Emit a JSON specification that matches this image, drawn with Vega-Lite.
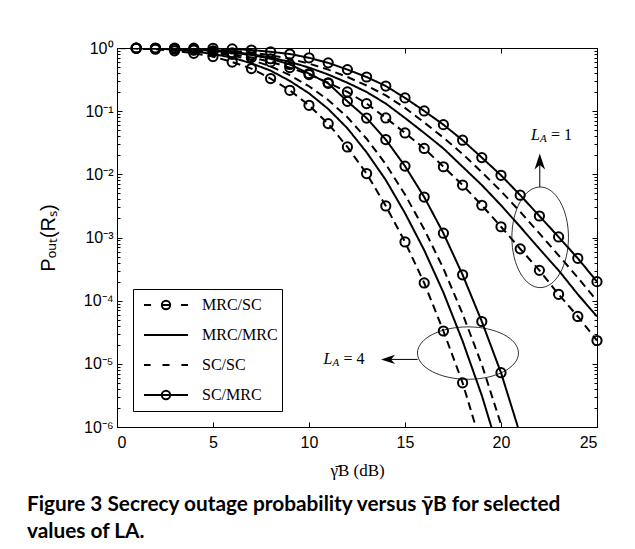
{
  "$schema": "https://vega.github.io/schema/vega-lite/v6.json",
  "autosize": {"type": "none"},
  "width": 480,
  "height": 379,
  "padding": {"left": 117, "top": 48, "right": 38, "bottom": 122},
  "background": "white",
  "title": {
    "text": ["Figure 3 Secrecy outage probability versus γ̄B for selected", "values of LA."],
    "orient": "bottom", "anchor": "start", "frame": "group",
    "font": "Lato", "fontWeight": "bold", "fontSize": 20.8, "lineHeight": 27,
    "color": "black", "dx": -90, "offset": 17
  },
  "datasets": {
    "curves": [
      {"s":"MRC/SC","g":"4","x":0,"y":0.998},{"s":"MRC/SC","g":"4","x":1,"y":0.9886},{"s":"MRC/SC","g":"4","x":2,"y":0.955},{"s":"MRC/SC","g":"4","x":3,"y":0.9016},{"s":"MRC/SC","g":"4","x":4,"y":0.8222},{"s":"MRC/SC","g":"4","x":5,"y":0.7328},{"s":"MRC/SC","g":"4","x":6,"y":0.5998},{"s":"MRC/SC","g":"4","x":7,"y":0.4721},{"s":"MRC/SC","g":"4","x":8,"y":0.3281},{"s":"MRC/SC","g":"4","x":9,"y":0.2138},{"s":"MRC/SC","g":"4","x":10,"y":0.1239},{"s":"MRC/SC","g":"4","x":11,"y":0.0635},{"s":"MRC/SC","g":"4","x":12,"y":0.0271},{"s":"MRC/SC","g":"4","x":13,"y":0.01028},{"s":"MRC/SC","g":"4","x":14,"y":0.00316},{"s":"MRC/SC","g":"4","x":15,"y":0.000851},{"s":"MRC/SC","g":"4","x":16,"y":0.000191},{"s":"MRC/SC","g":"4","x":17,"y":0.0000331},{"s":"MRC/SC","g":"4","x":18,"y":0.00000501},{"s":"MRC/SC","g":"4","x":18.69,"y":0.000001},
      {"s":"MRC/MRC","g":"4","x":0,"y":0.9995},{"s":"MRC/MRC","g":"4","x":1,"y":0.9977},{"s":"MRC/MRC","g":"4","x":2,"y":0.9817},{"s":"MRC/MRC","g":"4","x":3,"y":0.9441},{"s":"MRC/MRC","g":"4","x":4,"y":0.8851},{"s":"MRC/MRC","g":"4","x":5,"y":0.8035},{"s":"MRC/MRC","g":"4","x":6,"y":0.7047},{"s":"MRC/MRC","g":"4","x":7,"y":0.5715},{"s":"MRC/MRC","g":"4","x":8,"y":0.4385},{"s":"MRC/MRC","g":"4","x":9,"y":0.3013},{"s":"MRC/MRC","g":"4","x":10,"y":0.1919},{"s":"MRC/MRC","g":"4","x":11,"y":0.1084},{"s":"MRC/MRC","g":"4","x":12,"y":0.0536},{"s":"MRC/MRC","g":"4","x":13,"y":0.0223},{"s":"MRC/MRC","g":"4","x":14,"y":0.00813},{"s":"MRC/MRC","g":"4","x":15,"y":0.00243},{"s":"MRC/MRC","g":"4","x":16,"y":0.000631},{"s":"MRC/MRC","g":"4","x":17,"y":0.000135},{"s":"MRC/MRC","g":"4","x":18,"y":0.0000229},{"s":"MRC/MRC","g":"4","x":19,"y":0.00000316},{"s":"MRC/MRC","g":"4","x":19.5,"y":0.000001},
      {"s":"SC/SC","g":"4","x":0,"y":1},{"s":"SC/SC","g":"4","x":1,"y":0.9995},{"s":"SC/SC","g":"4","x":2,"y":0.9931},{"s":"SC/SC","g":"4","x":3,"y":0.9661},{"s":"SC/SC","g":"4","x":4,"y":0.9204},{"s":"SC/SC","g":"4","x":5,"y":0.8492},{"s":"SC/SC","g":"4","x":6,"y":0.7621},{"s":"SC/SC","g":"4","x":7,"y":0.6457},{"s":"SC/SC","g":"4","x":8,"y":0.5129},{"s":"SC/SC","g":"4","x":9,"y":0.3724},{"s":"SC/SC","g":"4","x":10,"y":0.2483},{"s":"SC/SC","g":"4","x":11,"y":0.15},{"s":"SC/SC","g":"4","x":12,"y":0.0802},{"s":"SC/SC","g":"4","x":13,"y":0.0366},{"s":"SC/SC","g":"4","x":14,"y":0.01445},{"s":"SC/SC","g":"4","x":15,"y":0.00479},{"s":"SC/SC","g":"4","x":16,"y":0.00135},{"s":"SC/SC","g":"4","x":17,"y":0.000324},{"s":"SC/SC","g":"4","x":18,"y":0.0000617},{"s":"SC/SC","g":"4","x":19,"y":0.00000977},{"s":"SC/SC","g":"4","x":20,"y":0.0000011},{"s":"SC/SC","g":"4","x":20.03,"y":0.000001},
      {"s":"SC/MRC","g":"4","x":0,"y":1},{"s":"SC/MRC","g":"4","x":1,"y":0.9954},{"s":"SC/MRC","g":"4","x":2,"y":0.9886},{"s":"SC/MRC","g":"4","x":3,"y":0.9727},{"s":"SC/MRC","g":"4","x":4,"y":0.9441},{"s":"SC/MRC","g":"4","x":5,"y":0.9016},{"s":"SC/MRC","g":"4","x":6,"y":0.8414},{"s":"SC/MRC","g":"4","x":7,"y":0.7762},{"s":"SC/MRC","g":"4","x":8,"y":0.6761},{"s":"SC/MRC","g":"4","x":9,"y":0.5495},{"s":"SC/MRC","g":"4","x":10,"y":0.3936},{"s":"SC/MRC","g":"4","x":11,"y":0.2754},{"s":"SC/MRC","g":"4","x":12,"y":0.1432},{"s":"SC/MRC","g":"4","x":13,"y":0.0776},{"s":"SC/MRC","g":"4","x":14,"y":0.0355},{"s":"SC/MRC","g":"4","x":15,"y":0.01349},{"s":"SC/MRC","g":"4","x":16,"y":0.00437},{"s":"SC/MRC","g":"4","x":17,"y":0.00117},{"s":"SC/MRC","g":"4","x":18,"y":0.000257},{"s":"SC/MRC","g":"4","x":19,"y":0.0000468},{"s":"SC/MRC","g":"4","x":20,"y":0.00000724},{"s":"SC/MRC","g":"4","x":20.88,"y":0.000001},
      {"s":"MRC/SC","g":"1","x":0,"y":0.999},{"s":"MRC/SC","g":"1","x":1,"y":0.9931},{"s":"MRC/SC","g":"1","x":2,"y":0.9817},{"s":"MRC/SC","g":"1","x":3,"y":0.9594},{"s":"MRC/SC","g":"1","x":4,"y":0.9226},{"s":"MRC/SC","g":"1","x":5,"y":0.871},{"s":"MRC/SC","g":"1","x":6,"y":0.7943},{"s":"MRC/SC","g":"1","x":7,"y":0.7079},{"s":"MRC/SC","g":"1","x":8,"y":0.6026},{"s":"MRC/SC","g":"1","x":9,"y":0.4898},{"s":"MRC/SC","g":"1","x":10,"y":0.3802},{"s":"MRC/SC","g":"1","x":11,"y":0.2818},{"s":"MRC/SC","g":"1","x":12,"y":0.2014},{"s":"MRC/SC","g":"1","x":13,"y":0.1318},{"s":"MRC/SC","g":"1","x":14,"y":0.078},{"s":"MRC/SC","g":"1","x":15,"y":0.0452},{"s":"MRC/SC","g":"1","x":16,"y":0.0257},{"s":"MRC/SC","g":"1","x":17,"y":0.01318},{"s":"MRC/SC","g":"1","x":18,"y":0.00676},{"s":"MRC/SC","g":"1","x":19,"y":0.00324},{"s":"MRC/SC","g":"1","x":20,"y":0.00148},{"s":"MRC/SC","g":"1","x":21,"y":0.000661},{"s":"MRC/SC","g":"1","x":22,"y":0.000302},{"s":"MRC/SC","g":"1","x":23,"y":0.000126},{"s":"MRC/SC","g":"1","x":24,"y":0.0000562},{"s":"MRC/SC","g":"1","x":25,"y":0.0000234},
      {"s":"MRC/MRC","g":"1","x":0,"y":1},{"s":"MRC/MRC","g":"1","x":1,"y":0.9977},{"s":"MRC/MRC","g":"1","x":2,"y":0.9931},{"s":"MRC/MRC","g":"1","x":3,"y":0.9817},{"s":"MRC/MRC","g":"1","x":4,"y":0.9594},{"s":"MRC/MRC","g":"1","x":5,"y":0.9226},{"s":"MRC/MRC","g":"1","x":6,"y":0.871},{"s":"MRC/MRC","g":"1","x":7,"y":0.7943},{"s":"MRC/MRC","g":"1","x":8,"y":0.7079},{"s":"MRC/MRC","g":"1","x":9,"y":0.6026},{"s":"MRC/MRC","g":"1","x":10,"y":0.4898},{"s":"MRC/MRC","g":"1","x":11,"y":0.3802},{"s":"MRC/MRC","g":"1","x":12,"y":0.2818},{"s":"MRC/MRC","g":"1","x":13,"y":0.2014},{"s":"MRC/MRC","g":"1","x":14,"y":0.1318},{"s":"MRC/MRC","g":"1","x":15,"y":0.078},{"s":"MRC/MRC","g":"1","x":16,"y":0.0452},{"s":"MRC/MRC","g":"1","x":17,"y":0.0257},{"s":"MRC/MRC","g":"1","x":18,"y":0.01318},{"s":"MRC/MRC","g":"1","x":19,"y":0.00676},{"s":"MRC/MRC","g":"1","x":20,"y":0.00324},{"s":"MRC/MRC","g":"1","x":21,"y":0.00148},{"s":"MRC/MRC","g":"1","x":22,"y":0.000661},{"s":"MRC/MRC","g":"1","x":23,"y":0.000302},{"s":"MRC/MRC","g":"1","x":24,"y":0.000126},{"s":"MRC/MRC","g":"1","x":25,"y":0.0000562},
      {"s":"SC/SC","g":"1","x":0,"y":1},{"s":"SC/SC","g":"1","x":1,"y":0.9995},{"s":"SC/SC","g":"1","x":2,"y":0.9977},{"s":"SC/SC","g":"1","x":3,"y":0.9908},{"s":"SC/SC","g":"1","x":4,"y":0.975},{"s":"SC/SC","g":"1","x":5,"y":0.9484},{"s":"SC/SC","g":"1","x":6,"y":0.9057},{"s":"SC/SC","g":"1","x":7,"y":0.8472},{"s":"SC/SC","g":"1","x":8,"y":0.7674},{"s":"SC/SC","g":"1","x":9,"y":0.6745},{"s":"SC/SC","g":"1","x":10,"y":0.5662},{"s":"SC/SC","g":"1","x":11,"y":0.4539},{"s":"SC/SC","g":"1","x":12,"y":0.3475},{"s":"SC/SC","g":"1","x":13,"y":0.2547},{"s":"SC/SC","g":"1","x":14,"y":0.1774},{"s":"SC/SC","g":"1","x":15,"y":0.1127},{"s":"SC/SC","g":"1","x":16,"y":0.0662},{"s":"SC/SC","g":"1","x":17,"y":0.0381},{"s":"SC/SC","g":"1","x":18,"y":0.021},{"s":"SC/SC","g":"1","x":19,"y":0.01079},{"s":"SC/SC","g":"1","x":20,"y":0.00542},{"s":"SC/SC","g":"1","x":21,"y":0.00256},{"s":"SC/SC","g":"1","x":22,"y":0.00116},{"s":"SC/SC","g":"1","x":23,"y":0.000522},{"s":"SC/SC","g":"1","x":24,"y":0.000232},{"s":"SC/SC","g":"1","x":25,"y":0.0000989},
      {"s":"SC/MRC","g":"1","x":0,"y":1},{"s":"SC/MRC","g":"1","x":1,"y":0.9995},{"s":"SC/MRC","g":"1","x":2,"y":0.9995},{"s":"SC/MRC","g":"1","x":3,"y":0.9977},{"s":"SC/MRC","g":"1","x":4,"y":0.9954},{"s":"SC/MRC","g":"1","x":5,"y":0.9886},{"s":"SC/MRC","g":"1","x":6,"y":0.9661},{"s":"SC/MRC","g":"1","x":7,"y":0.929},{"s":"SC/MRC","g":"1","x":8,"y":0.871},{"s":"SC/MRC","g":"1","x":9,"y":0.8035},{"s":"SC/MRC","g":"1","x":10,"y":0.6998},{"s":"SC/MRC","g":"1","x":11,"y":0.5821},{"s":"SC/MRC","g":"1","x":12,"y":0.455},{"s":"SC/MRC","g":"1","x":13,"y":0.3475},{"s":"SC/MRC","g":"1","x":14,"y":0.25},{"s":"SC/MRC","g":"1","x":15,"y":0.1622},{"s":"SC/MRC","g":"1","x":16,"y":0.1007},{"s":"SC/MRC","g":"1","x":17,"y":0.0612},{"s":"SC/MRC","g":"1","x":18,"y":0.0347},{"s":"SC/MRC","g":"1","x":19,"y":0.0184},{"s":"SC/MRC","g":"1","x":20,"y":0.00966},{"s":"SC/MRC","g":"1","x":21,"y":0.00468},{"s":"SC/MRC","g":"1","x":22,"y":0.00219},{"s":"SC/MRC","g":"1","x":23,"y":0.00102},{"s":"SC/MRC","g":"1","x":24,"y":0.000468},{"s":"SC/MRC","g":"1","x":25,"y":0.0002}
    ],
    "keys": [{"k": "MRC/SC"}, {"k": "MRC/MRC"}, {"k": "SC/SC"}, {"k": "SC/MRC"}],
    "ann": [
      {"x": 21.56, "y": 0.0415, "eq": "= 1"},
      {"x": 10.75, "y": 0.0000121, "eq": "= 4"}
    ]
  },
  "resolve": {"axis": {"x": "independent", "y": "independent"}},
  "layer": [
    {
      "data": {"name": "curves"},
      "mark": {"type": "line", "color": "black", "strokeWidth": 2, "clip": true},
      "encoding": {
        "x": {"field": "x", "type": "quantitative",
          "scale": {"domain": [0, 25], "nice": false, "zero": false},
          "axis": {"orient": "bottom", "offset": 0, "values": [0, 5, 10, 15, 20, 25], "title": "γ̄B  (dB)",
            "titleFont": "Liberation Serif", "titleFontSize": 17, "titleFontWeight": "normal", "titlePadding": 12,
            "labelFont": "Liberation Sans", "labelFontSize": 16, "tickSize": -5, "labelPadding": 12}},
        "y": {"field": "y", "type": "quantitative",
          "scale": {"type": "log", "domain": [0.000001, 1], "nice": false},
          "axis": {"orient": "left", "offset": 0, "values": [0.000001, 0.00001, 0.0001, 0.001, 0.01, 0.1, 1],
            "labelExpr": "datum.value >= 0.5 ? '10⁰' : datum.value >= 0.05 ? '10⁻¹' : datum.value >= 0.005 ? '10⁻²' : datum.value >= 0.0005 ? '10⁻³' : datum.value >= 0.00005 ? '10⁻⁴' : datum.value >= 0.000005 ? '10⁻⁵' : '10⁻⁶'",
            "title": "Pₒᵤₜ(Rₛ)", "titleFont": "Liberation Sans", "titleFontSize": 20, "titleFontWeight": "normal", "titlePadding": 25,
            "labelFont": "Liberation Sans", "labelFontSize": 16, "tickSize": -5, "labelPadding": 9}},
        "detail": {"field": "g"},
        "strokeDash": {"field": "s", "type": "nominal",
          "scale": {"domain": ["MRC/MRC", "MRC/SC", "SC/MRC", "SC/SC"], "range": [[1, 0], [8, 5], [1, 0], [8, 5]]},
          "legend": null}
      }
    },
    {
      "data": {"name": "keys"},
      "mark": {"type": "point", "filled": false, "color": "black", "opacity": 0},
      "encoding": {
        "shape": {"field": "k", "type": "nominal",
          "scale": {"domain": ["MRC/SC", "MRC/MRC", "SC/SC", "SC/MRC"],
            "range": [
              "M-1,0H-0.68M0.68,0H1M-0.19,0C-0.19,-0.105 -0.105,-0.19 0,-0.19C0.105,-0.19 0.19,-0.105 0.19,0C0.19,0.105 0.105,0.19 0,0.19C-0.105,0.19 -0.19,0.105 -0.19,0ZM-0.19,0H0.19",
              "M-1,0H1",
              "M-1,0H-0.7M-0.16,0H0.16M0.7,0H1",
              "M-1,0H1M-0.19,0C-0.19,-0.105 -0.105,-0.19 0,-0.19C0.105,-0.19 0.19,-0.105 0.19,0C0.19,0.105 0.105,0.19 0,0.19C-0.105,0.19 -0.19,0.105 -0.19,0Z"
            ]},
          "legend": {"title": null, "orient": "none", "legendX": 16, "legendY": 241, "direction": "vertical",
            "strokeColor": "black", "fillColor": "white", "padding": 4,
            "labelFont": "Liberation Serif", "labelFontSize": 16, "labelColor": "black", "labelOffset": 13,
            "symbolSize": 1936, "symbolStrokeWidth": 2, "symbolStrokeColor": "black", "symbolFillColor": "transparent",
            "symbolOpacity": 1, "symbolOffset": 6, "clipHeight": 24, "rowPadding": 6}}
      }
    },
    {
      "data": {"name": "curves"},
      "transform": [{"filter": "(datum.s == 'MRC/SC' || datum.s == 'SC/MRC') && datum.x >= 1 && datum.x == floor(datum.x)"}],
      "mark": {"type": "point", "shape": "circle", "filled": false, "stroke": "black", "strokeWidth": 2, "size": 85, "opacity": 1},
      "encoding": {
        "x": {"field": "x", "type": "quantitative",
          "axis": {"orient": "top", "offset": 0, "values": [0, 5, 10, 15, 20, 25], "labels": false, "title": null, "tickSize": -5}},
        "y": {"field": "y", "type": "quantitative",
          "axis": {"orient": "right", "offset": 0, "values": [0.000001, 0.00001, 0.0001, 0.001, 0.01, 0.1, 1], "labels": false, "title": null, "tickSize": -5}}
      }
    },
    {
      "data": {"values": [{"x": 22.04, "y": 0.001007}]},
      "mark": {"type": "point", "shape": "M-0.5625,0A0.5625,1 0 1,1 0.5625,0A0.5625,1 0 1,1 -0.5625,0Z", "size": 10120, "filled": false, "stroke": "black", "strokeWidth": 0.8, "opacity": 1},
      "encoding": {
        "x": {"field": "x", "type": "quantitative", "axis": null},
        "y": {"field": "y", "type": "quantitative",
          "axis": {"orient": "left", "offset": 0, "values": [0.000002,0.000003,0.000004,0.000005,0.000006,0.000007,0.000008,0.000009,0.00002,0.00003,0.00004,0.00005,0.00006,0.00007,0.00008,0.00009,0.0002,0.0003,0.0004,0.0005,0.0006,0.0007,0.0008,0.0009,0.002,0.003,0.004,0.005,0.006,0.007,0.008,0.009,0.02,0.03,0.04,0.05,0.06,0.07,0.08,0.09,0.2,0.3,0.4,0.5,0.6,0.7,0.8,0.9],
            "labels": false, "title": null, "domain": false, "tickSize": -3}}
      }
    },
    {
      "data": {"values": [{"x": 18.28, "y": 0.0000148}]},
      "mark": {"type": "point", "shape": "M-1,0A1,0.519 0 1,1 1,0A1,0.519 0 1,1 -1,0Z", "size": 10201, "filled": false, "stroke": "black", "strokeWidth": 0.8, "opacity": 1},
      "encoding": {
        "x": {"field": "x", "type": "quantitative", "axis": null},
        "y": {"field": "y", "type": "quantitative",
          "axis": {"orient": "right", "offset": 0, "values": [0.000002,0.000003,0.000004,0.000005,0.000006,0.000007,0.000008,0.000009,0.00002,0.00003,0.00004,0.00005,0.00006,0.00007,0.00008,0.00009,0.0002,0.0003,0.0004,0.0005,0.0006,0.0007,0.0008,0.0009,0.002,0.003,0.004,0.005,0.006,0.007,0.008,0.009,0.02,0.03,0.04,0.05,0.06,0.07,0.08,0.09,0.2,0.3,0.4,0.5,0.6,0.7,0.8,0.9],
            "labels": false, "title": null, "domain": false, "tickSize": -3}}
      }
    },
    {
      "data": {"values": [{"x": 22.02, "y": 0.00631, "y2": 0.0185}]},
      "mark": {"type": "rule", "color": "black", "strokeWidth": 1},
      "encoding": {
        "x": {"field": "x", "type": "quantitative", "axis": null},
        "y": {"field": "y", "type": "quantitative", "axis": null},
        "y2": {"field": "y2"}
      }
    },
    {
      "data": {"values": [{"x": 15.66, "x2": 14.2, "y": 0.00001175}]},
      "mark": {"type": "rule", "color": "black", "strokeWidth": 1},
      "encoding": {
        "x": {"field": "x", "type": "quantitative", "axis": null},
        "x2": {"field": "x2"},
        "y": {"field": "y", "type": "quantitative", "axis": null}
      }
    },
    {
      "data": {"values": [{"x": 22.02, "y": 0.0213}]},
      "mark": {"type": "point", "shape": "M0,0L0.33,1L0,0.72L-0.33,1Z", "size": 1024, "filled": true, "color": "black", "opacity": 1},
      "encoding": {
        "x": {"field": "x", "type": "quantitative", "axis": null},
        "y": {"field": "y", "type": "quantitative", "axis": null}
      }
    },
    {
      "data": {"values": [{"x": 13.75, "y": 0.00001175}]},
      "mark": {"type": "point", "shape": "M0,0L1,-0.33L0.72,0L1,0.33Z", "size": 784, "filled": true, "color": "black", "opacity": 1},
      "encoding": {
        "x": {"field": "x", "type": "quantitative", "axis": null},
        "y": {"field": "y", "type": "quantitative", "axis": null}
      }
    },
    {
      "data": {"name": "ann"},
      "mark": {"type": "text", "text": "L", "font": "Liberation Serif", "fontStyle": "italic", "fontSize": 16, "align": "left", "baseline": "middle", "color": "black"},
      "encoding": {
        "x": {"field": "x", "type": "quantitative", "axis": null},
        "y": {"field": "y", "type": "quantitative", "axis": null}
      }
    },
    {
      "data": {"name": "ann"},
      "mark": {"type": "text", "text": "A", "font": "Liberation Serif", "fontStyle": "italic", "fontSize": 11, "align": "left", "baseline": "middle", "color": "black", "dx": 9, "dy": 4},
      "encoding": {
        "x": {"field": "x", "type": "quantitative", "axis": null},
        "y": {"field": "y", "type": "quantitative", "axis": null}
      }
    },
    {
      "data": {"name": "ann"},
      "mark": {"type": "text", "font": "Liberation Serif", "fontSize": 16, "align": "left", "baseline": "middle", "color": "black", "dx": 20},
      "encoding": {
        "x": {"field": "x", "type": "quantitative", "axis": null},
        "y": {"field": "y", "type": "quantitative", "axis": null},
        "text": {"field": "eq"}
      }
    }
  ],
  "config": {
    "view": {"stroke": "black", "strokeWidth": 1},
    "axis": {"domainColor": "black", "tickColor": "black", "labelColor": "black", "titleColor": "black", "grid": false, "domainWidth": 1, "tickWidth": 1}
  }
}
